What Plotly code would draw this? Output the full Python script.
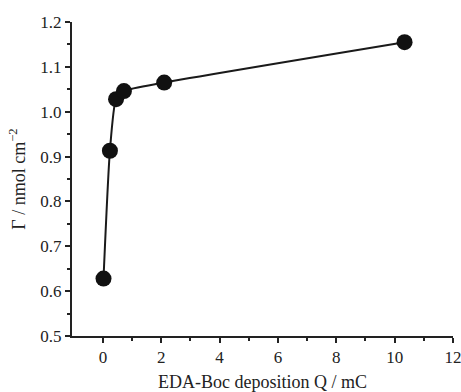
import plotly.graph_objects as go

charge_mC = [0.02, 0.24, 0.45, 0.72, 2.1, 10.34]
surface_conc = [0.628, 0.913, 1.028, 1.046, 1.065, 1.155]

x_ticks = [0, 2, 4, 6, 8, 10, 12]
y_ticks = [0.5, 0.6, 0.7, 0.8, 0.9, 1.0, 1.1, 1.2]

fig = go.Figure()
fig.add_trace(go.Scatter(
    x=charge_mC, y=surface_conc, mode="lines+markers",
    line=dict(color="#1a1a1a", width=2, shape="spline", smoothing=0.6),
    marker=dict(color="#111111", size=16),
    showlegend=False,
))

font = dict(family="Liberation Serif, Times New Roman, serif", color="#222222")
fig.update_layout(
    width=461, height=392,
    margin=dict(l=72, r=8, t=22, b=56),
    paper_bgcolor="white", plot_bgcolor="white",
    font=dict(**font, size=17),
    xaxis=dict(
        range=[-1.06, 12], tickvals=x_ticks, ticktext=[str(v) for v in x_ticks],
        automargin=False, ticklabeloverflow="allow",
        showgrid=False, zeroline=False, showline=True, linecolor="#222222", linewidth=2,
        ticks="outside", ticklen=5, tickwidth=1.5, tickcolor="#222222",
        minor=dict(tickvals=[1, 3, 5, 7, 9, 11], ticks="outside", ticklen=3, tickcolor="#222222", tickwidth=1.5),
        title=dict(text="EDA-Boc deposition Q / mC", font=dict(size=18), standoff=10),
        tickfont=dict(size=17),
    ),
    yaxis=dict(
        range=[0.5, 1.2], tickvals=y_ticks, ticktext=[f"{v:.1f}" for v in y_ticks],
        automargin=False, ticklabeloverflow="allow",
        showgrid=False, zeroline=False, showline=True, linecolor="#222222", linewidth=2,
        ticks="outside", ticklen=5, tickwidth=1.5, tickcolor="#222222",
        minor=dict(tickvals=[0.55, 0.65, 0.75, 0.85, 0.95, 1.05, 1.15], ticks="outside", ticklen=3, tickcolor="#222222", tickwidth=1.5),
        title=dict(text="Γ / nmol cm<sup>−2</sup>", font=dict(size=18), standoff=10),
        tickfont=dict(size=17),
    ),
)
fig.write_html(
    "out.html",
    config={"displayModeBar": False},
    post_script="document.body.style.margin='0';document.body.style.overflow='hidden';",
)
